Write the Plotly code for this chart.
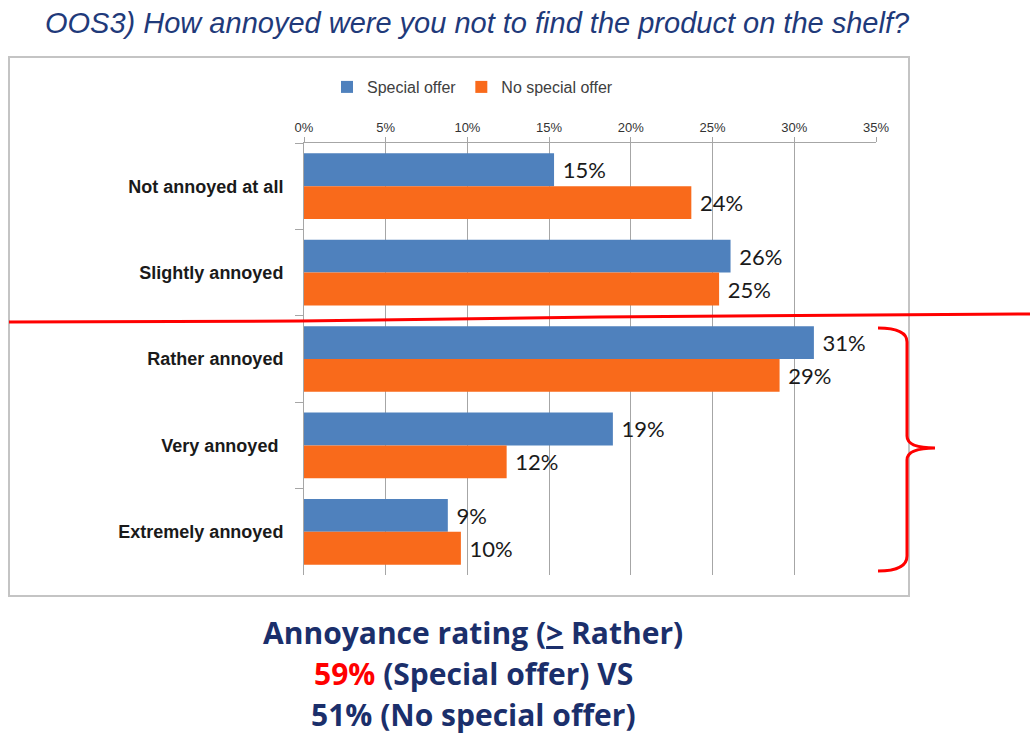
import plotly.graph_objects as go

# ---- data ----
categories = ["Not annoyed at all", "Slightly annoyed", "Rather annoyed", "Very annoyed ", "Extremely annoyed"]
special_offer = [0.153, 0.261, 0.312, 0.189, 0.088]
no_special_offer = [0.237, 0.254, 0.291, 0.124, 0.096]
series_names = ["Special offer", "No special offer"]
x_tick_vals = [0, 0.05, 0.10, 0.15, 0.20, 0.25, 0.30, 0.35]
x_tick_text = ["0%", "5%", "10%", "15%", "20%", "25%", "30%", "35%"]

W, H = 1033, 740
L, R, T, B = 304, 876, 143, 575  # plot area in px


def px2x(px):
    return (px - L) / (R - L)


def py2y(py):
    return (B - py) / (B - T)


BLUE = "#4F81BD"
ORANGE = "#F96A1B"
NAVY = "#1B2F6B"

fig = go.Figure()
fig.add_trace(go.Bar(
    y=categories, x=special_offer, name=series_names[0], orientation="h",
    marker=dict(color=BLUE, line=dict(width=0)),
    texttemplate=" %{x:.0%}", textposition="outside", cliponaxis=False,
    textfont=dict(family="Lato", size=22, color="#1a1a1a"),
))
fig.add_trace(go.Bar(
    y=categories, x=no_special_offer, name=series_names[1], orientation="h",
    marker=dict(color=ORANGE, line=dict(width=0)),
    texttemplate=" %{x:.0%}", textposition="outside", cliponaxis=False,
    textfont=dict(family="Lato", size=22, color="#1a1a1a"),
))

fig.update_layout(
    width=W, height=H,
    margin=dict(l=L, r=W - R, t=T, b=H - B, pad=0),
    paper_bgcolor="white", plot_bgcolor="white",
    barmode="group", bargap=0.24, bargroupgap=0,
    showlegend=True,
    legend=dict(
        orientation="h", x=px2x(327), y=py2y(87), xanchor="left", yanchor="middle",
        font=dict(family="Liberation Sans", size=16, color="#404040"),
        bgcolor="rgba(0,0,0,0)", itemclick=False, tracegroupgap=0,
    ),
    xaxis=dict(
        side="top", range=[0, 0.35], tickvals=x_tick_vals, ticktext=x_tick_text,
        showgrid=True, gridcolor="#A6A6A6", gridwidth=1,
        showline=True, linecolor="#A6A6A6", linewidth=1,
        ticks="outside", ticklen=5, tickcolor="#A6A6A6",
        tickfont=dict(family="Liberation Sans", size=13, color="#333333"),
        ticklabelstandoff=0,
        zeroline=False, fixedrange=True,
    ),
    yaxis=dict(
        autorange="reversed", type="category",
        showline=True, linecolor="#A6A6A6", linewidth=1,
        ticks="outside", ticklen=8, tickcolor="#A6A6A6", tickson="boundaries",
        tickfont=dict(family="Liberation Sans", size=18, color="#1a1a1a", weight="bold"),
        ticklabelstandoff=16,
        showgrid=False, zeroline=False, fixedrange=True,
    ),
)

shapes = []
# chart frame
shapes.append(dict(type="rect", xref="paper", yref="paper", layer="below",
                   x0=px2x(9), x1=px2x(909), y0=py2y(596), y1=py2y(57),
                   line=dict(color="#C4C4C4", width=2), fillcolor="rgba(0,0,0,0)"))
# red divider line
pts = [(9, 322), (300, 321), (600, 317), (1030, 314)]
path = "M " + " L ".join(f"{px2x(a):.5f},{py2y(b):.5f}" for a, b in pts)
shapes.append(dict(type="path", xref="paper", yref="paper", path=path, layer="above",
                   line=dict(color="#FF0000", width=3)))
# red curly bracket
bp = lambda a, b: f"{px2x(a):.5f},{py2y(b):.5f}"
bracket = (f"M {bp(878,328)} Q {bp(907,328)} {bp(907,342)} L {bp(907,436)} "
           f"Q {bp(907,448)} {bp(935,448)} Q {bp(907,448)} {bp(907,460)} "
           f"L {bp(907,556)} Q {bp(907,571)} {bp(878,571)}")
shapes.append(dict(type="path", xref="paper", yref="paper", path=bracket, layer="above",
                   line=dict(color="#FF0000", width=3)))
fig.update_layout(shapes=shapes)

BOTTOM_FONT = dict(family="Open Sans", size=30, color=NAVY)
annotations = [
    dict(text="<i>OOS3) How annoyed were you not to find the product on the shelf?</i>",
         x=px2x(43), y=py2y(23), xref="paper", yref="paper", xanchor="left", yanchor="middle",
         showarrow=False, font=dict(family="Liberation Sans", size=29, color="#1F3A7A")),
    dict(text="<b>Annoyance rating (<u>></u> Rather)</b>",
         x=px2x(473), y=py2y(632), xref="paper", yref="paper", xanchor="center", yanchor="middle",
         showarrow=False, font=BOTTOM_FONT),
    dict(text="<b><span style='color:#FF0000'>59%</span> (Special offer) VS</b>",
         x=px2x(473), y=py2y(673), xref="paper", yref="paper", xanchor="center", yanchor="middle",
         showarrow=False, font=BOTTOM_FONT),
    dict(text="<b>51% (No special offer)</b>",
         x=px2x(473), y=py2y(714), xref="paper", yref="paper", xanchor="center", yanchor="middle",
         showarrow=False, font=BOTTOM_FONT),
]
fig.update_layout(annotations=annotations)

fig.write_html("out.html", config={"displayModeBar": False},
               post_script="document.body.style.margin='0px';")
